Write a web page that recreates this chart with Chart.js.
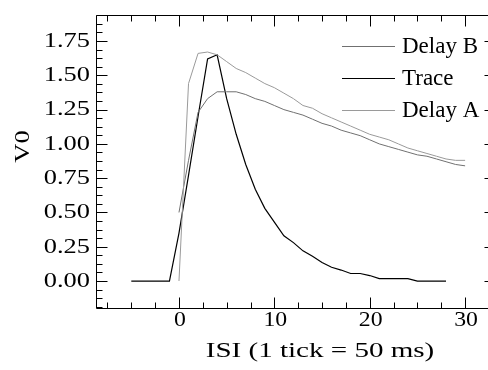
<!DOCTYPE html>
<html>
<head>
<meta charset="utf-8">
<script src="https://cdn.jsdelivr.net/npm/chart.js@4.4.1/dist/chart.umd.min.js"></script>
<style>
  html, body { margin: 0; padding: 0; background: #fff; }
  #wrap { width: 488px; height: 370px; }
</style>
</head>
<body>
<div id="wrap"><canvas id="chart" width="488" height="370"></canvas></div>
<script>
// values
const traceX = [-5, -4, -3, -2, -1, 0, 1, 2, 3, 4, 5, 6, 7, 8, 9, 10, 11, 12, 13, 14,
                15, 16, 17, 18, 19, 20, 21, 22, 23, 24, 25, 26, 27, 28];
const traceY = [0, 0, 0, 0, 0, 0.35, 0.77, 1.2, 1.62, 1.65, 1.33, 1.07, 0.85, 0.67, 0.53, 0.43, 0.33, 0.28, 0.22, 0.18,
                0.135, 0.1, 0.08, 0.055, 0.055, 0.04, 0.018, 0.018, 0.018, 0.018, 0, 0, 0, 0];

const delayX = [0, 1, 2, 3, 4, 5, 6, 7, 8, 9, 10, 11, 12, 13, 14, 15, 16, 17, 18, 19,
                20, 21, 22, 23, 24, 25, 26, 27, 28, 29, 30];
const delayA = [0, 1.44, 1.66, 1.67, 1.65, 1.6, 1.55, 1.52, 1.48, 1.44, 1.41, 1.37, 1.33, 1.28, 1.26, 1.22, 1.19, 1.16, 1.13, 1.1,
                1.07, 1.05, 1.03, 1.0, 0.97, 0.95, 0.93, 0.91, 0.89, 0.88, 0.88];
const delayB = [0.5, 0.88, 1.23, 1.33, 1.38, 1.38, 1.38, 1.36, 1.33, 1.31, 1.28, 1.25, 1.23, 1.21, 1.18, 1.15, 1.13, 1.1, 1.08, 1.06,
                1.03, 1.0, 0.98, 0.96, 0.94, 0.92, 0.91, 0.89, 0.87, 0.85, 0.84];

const xTickLabels = [0, 10, 20, 30];
const yTickLabels = [0, 0.25, 0.5, 0.75, 1.0, 1.25, 1.5, 1.75];
const legendOrder = ['Delay B', 'Trace', 'Delay A'];

const SERIF = '"Liberation Serif", "Times New Roman", serif';
const xRightSpine = 33.1; // right frame sits just past the canvas edge

function pts(xs, ys) {
    return xs.map((x, i) => ({ x: x, y: ys[i] }));
}

// text with a horizontal stretch, the source figure's type is wide
function wideText(ctx, text, x, y, sx, rot) {
    ctx.save();
    ctx.translate(x, y);
    if (rot) ctx.rotate(rot);
    ctx.scale(sx, 1);
    ctx.fillText(text, 0, 0);
    ctx.restore();
}

// frame, inward ticks, labels, titles and legend
const framePlugin = {
    id: 'framePlugin',
    afterDraw(chart) {
        const ctx = chart.ctx;
        const xs = chart.scales.x;
        const ys = chart.scales.y;
        const a = chart.chartArea;
        const L = Math.round(a.left) + 0.5;
        const T = Math.round(a.top) + 0.5;
        const B = Math.round(a.bottom) - 0.5;
        const R = Math.round(xs.getPixelForValue(xRightSpine)) + 0.5;

        ctx.save();
        ctx.strokeStyle = '#000';
        ctx.lineWidth = 1;
        ctx.beginPath();
        ctx.moveTo(R, T); ctx.lineTo(L, T); ctx.lineTo(L, B); ctx.lineTo(R, B); ctx.lineTo(R, T);

        // x ticks every 2.5, long at multiples of 10
        for (let v = -7.5; v <= 33; v += 2.5) {
            const px = Math.round(xs.getPixelForValue(v)) + 0.5;
            const len = (v % 10 === 0) ? 11 : 6;
            ctx.moveTo(px, B); ctx.lineTo(px, B - len);
            ctx.moveTo(px, T); ctx.lineTo(px, T + len);
        }
        // y ticks every 0.0625, long at multiples of 0.25
        for (let k = -3; k <= 31; k++) {
            const v = k * 0.0625;
            const py = Math.round(ys.getPixelForValue(v)) + 0.5;
            const len = (k % 4 === 0) ? 11 : 6;
            ctx.moveTo(L, py); ctx.lineTo(L + len, py);
            ctx.moveTo(R, py); ctx.lineTo(R - len, py);
        }
        ctx.stroke();

        ctx.fillStyle = '#000';
        ctx.font = '22px ' + SERIF;
        ctx.textBaseline = 'middle';

        ctx.textAlign = 'right';
        yTickLabels.forEach(v => {
            wideText(ctx, v.toFixed(2), 90, ys.getPixelForValue(v), 1.2);
        });
        ctx.textAlign = 'center';
        xTickLabels.forEach(v => {
            wideText(ctx, String(v), xs.getPixelForValue(v) + 1, 320.5, 1.08);
        });

        wideText(ctx, 'ISI (1 tick = 50 ms)', 320, 351.5, 1.32);
        wideText(ctx, 'V0', 23.5, 146.5, 1.2, -Math.PI / 2);

        // legend inside the plot, top right
        ctx.textAlign = 'left';
        ctx.font = '23px ' + SERIF;
        legendOrder.forEach((name, i) => {
            const ds = chart.data.datasets.find(d => d.label === name);
            const y = 46.5 + i * 32;
            ctx.strokeStyle = ds.borderColor;
            ctx.lineWidth = ds.borderWidth;
            ctx.beginPath();
            ctx.moveTo(342, y); ctx.lineTo(395, y);
            ctx.stroke();
            ctx.fillStyle = '#000';
            ctx.fillText(name, 402, y);
        });
        ctx.restore();
    }
};

const chart = new Chart(document.getElementById('chart'), {
    type: 'line',
    data: {
        datasets: [
            { label: 'Delay A', data: pts(delayX, delayA), borderColor: '#9a9a9a', borderWidth: 1 },
            { label: 'Delay B', data: pts(delayX, delayB), borderColor: '#707070', borderWidth: 1 },
            { label: 'Trace', data: pts(traceX, traceY), borderColor: '#000000', borderWidth: 1.2 }
        ]
    },
    options: {
        responsive: false,
        animation: false,
        events: [],
        layout: { padding: { top: 15, right: 0, left: 0, bottom: 0 } },
        elements: {
            point: { radius: 0 },
            line: { tension: 0, fill: false }
        },
        plugins: {
            legend: { display: false },
            tooltip: { enabled: false }
        },
        scales: {
            x: {
                type: 'linear',
                min: -8.7,
                max: 32.4,
                grid: { display: false, drawTicks: false },
                border: { display: false },
                ticks: { display: false },
                afterFit(scale) { scale.height = 61; }
            },
            y: {
                type: 'linear',
                min: -0.204,
                max: 1.94,
                grid: { display: false, drawTicks: false },
                border: { display: false },
                ticks: { display: false },
                afterFit(scale) { scale.width = 96; }
            }
        }
    },
    plugins: [framePlugin]
});
</script>
</body>
</html>
